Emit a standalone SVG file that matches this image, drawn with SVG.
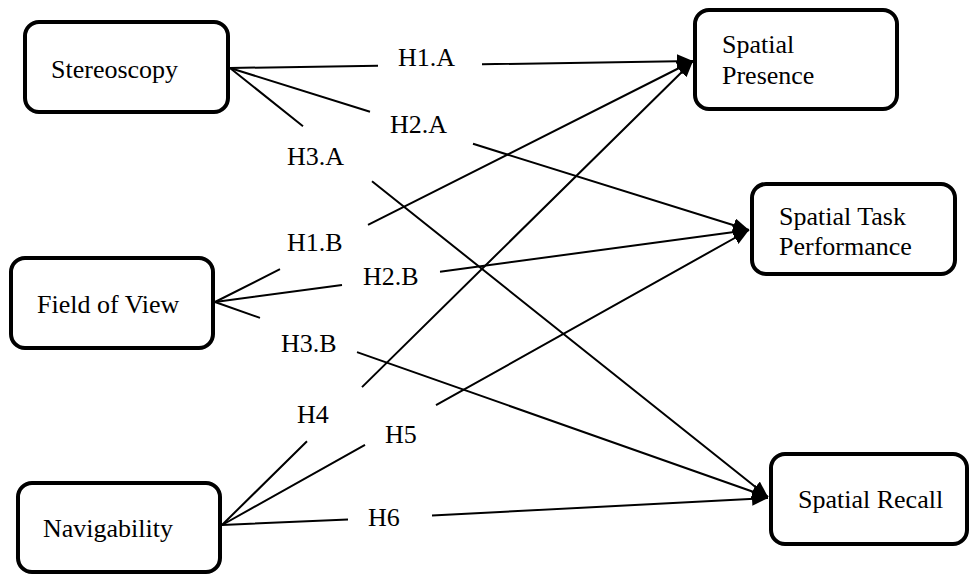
<svg xmlns="http://www.w3.org/2000/svg" width="969" height="575" viewBox="0 0 969 575">
  <style>
    .box { fill: #fff; stroke: #000; stroke-width: 4; }
    .lbl { font-family: "Liberation Serif", "Times New Roman", serif; font-size: 26px; fill: #000; }
    .edge { fill: none; stroke: #000; stroke-width: 2; }
  </style>
  <defs>
    <marker id="arrow" markerUnits="userSpaceOnUse" markerWidth="17" markerHeight="14" refX="16" refY="7" orient="auto" viewBox="0 0 17 14">
      <path d="M0,0 L16,7 L0,14 Z" fill="#000"/>
    </marker>
  </defs>

  <rect width="969" height="575" fill="#fff"/>

  <!-- connectors: each hypothesis line is split where its label sits -->
  <g id="connectors">
    <path id="e-h1a" class="edge" d="M230,68 L378,65.8 M482,64.3 L693,61" marker-end="url(#arrow)"/>
    <path id="e-h2a" class="edge" d="M230,68 L370,111.7 M473,143.8 L749,230" marker-end="url(#arrow)"/>
    <path id="e-h3a" class="edge" d="M230,68 L303,126.2 M372,181.2 L768,497" marker-end="url(#arrow)"/>
    <path id="e-h1b" class="edge" d="M215,302 L280,269.2 M368,224.9 L693,61" marker-end="url(#arrow)"/>
    <path id="e-h2b" class="edge" d="M215,302 L342,284.9 M440,271.7 L749,230" marker-end="url(#arrow)"/>
    <path id="e-h3b" class="edge" d="M215,302 L260,317.9 M357,352.1 L768,497" marker-end="url(#arrow)"/>
    <path id="e-h4" class="edge" d="M222,525 L307,441.3 M362,387.1 L693,61" marker-end="url(#arrow)"/>
    <path id="e-h5" class="edge" d="M222,525 L365,444.9 M436,405.2 L749,230" marker-end="url(#arrow)"/>
    <path id="e-h6" class="edge" d="M222,525 L348,519.5 M432,515.6 L768,498" marker-end="url(#arrow)"/>
  </g>

  <!-- hypothesis labels -->
  <g id="edge-labels">
    <text class="lbl" x="398" y="66">H1.A</text>
    <text class="lbl" x="390" y="133">H2.A</text>
    <text class="lbl" x="287" y="165">H3.A</text>
    <text class="lbl" x="287" y="251">H1.B</text>
    <text class="lbl" x="363" y="285">H2.B</text>
    <text class="lbl" x="281" y="352">H3.B</text>
    <text class="lbl" x="297" y="423">H4</text>
    <text class="lbl" x="385" y="443">H5</text>
    <text class="lbl" x="368" y="526">H6</text>
  </g>

  <!-- independent variables -->
  <g id="stereoscopy">
    <rect class="box" x="25" y="22" width="203" height="90" rx="14"/>
    <text class="lbl" x="51" y="78">Stereoscopy</text>
  </g>
  <g id="field-of-view">
    <rect class="box" x="11" y="258" width="202" height="90" rx="14"/>
    <text class="lbl" x="37" y="313">Field of View</text>
  </g>
  <g id="navigability">
    <rect class="box" x="18" y="483" width="202" height="89" rx="14"/>
    <text class="lbl" x="43" y="537">Navigability</text>
  </g>

  <!-- dependent variables -->
  <g id="spatial-presence">
    <rect class="box" x="695" y="10" width="202" height="99" rx="14"/>
    <text class="lbl" x="722" y="53">Spatial</text>
    <text class="lbl" x="722" y="84">Presence</text>
  </g>
  <g id="spatial-task-performance">
    <rect class="box" x="752" y="184" width="203" height="90" rx="14"/>
    <text class="lbl" x="779" y="225">Spatial Task</text>
    <text class="lbl" x="779" y="255">Performance</text>
  </g>
  <g id="spatial-recall">
    <rect class="box" x="771" y="454" width="196" height="90" rx="14"/>
    <text class="lbl" x="798" y="508">Spatial Recall</text>
  </g>
</svg>
